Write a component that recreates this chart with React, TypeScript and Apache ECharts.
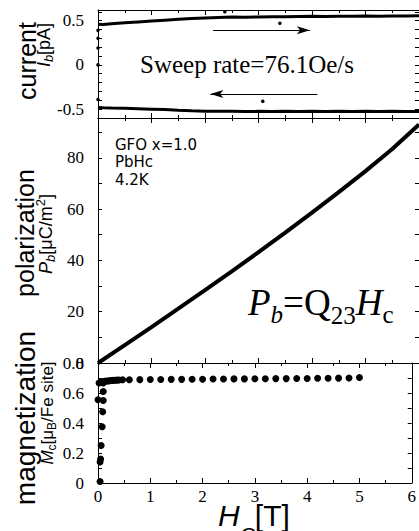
import React, { useEffect, useRef } from "react";
import * as echarts from "echarts";

const SERIF = "Liberation Serif";
const SANS = "Liberation Sans";
const DEJAVU = "DejaVu Sans";

// ---- current panel (I_b vs H) ----
const currentH = [0, 0.1, 0.25, 0.5, 0.75, 1, 1.25, 1.5, 1.75, 2, 2.25, 2.5, 2.75, 3, 3.25, 3.5, 3.75, 4, 4.25, 4.5, 4.75, 5, 5.25, 5.5, 5.75, 6];
const currentUp = [0.46, 0.455, 0.465, 0.475, 0.485, 0.495, 0.505, 0.515, 0.525, 0.53, 0.535, 0.54, 0.538, 0.542, 0.545, 0.543, 0.547, 0.548, 0.546, 0.55, 0.549, 0.552, 0.55, 0.553, 0.552, 0.555];
const currentDown = [-0.48, -0.485, -0.487, -0.49, -0.495, -0.5, -0.505, -0.512, -0.518, -0.523, -0.525, -0.524, -0.527, -0.525, -0.526, -0.524, -0.527, -0.525, -0.526, -0.524, -0.527, -0.525, -0.526, -0.525, -0.527, -0.526];
const strayH = [0, 0, 0, 0, 0, 2.37, 3.4, 3.08];
const strayI = [0.39, 0.3, 0.19, 0.0, -0.39, 0.6, 0.47, -0.41];
const arrowUpper = [[2.15, 0.39], [3.96, 0.39]];
const arrowLower = [[4.1, -0.33], [2.1, -0.33]];
const currentTicks = [-0.6, -0.5, -0.4, -0.3, -0.2, -0.1, 0, 0.1, 0.2, 0.3, 0.4, 0.5, 0.6];
const currentLabels = [-0.5, 0, 0.5];

// ---- polarization panel (P_b vs H) ----
const polH = [0, 0.5, 1, 1.5, 2, 2.5, 3, 3.5, 4, 4.5, 5, 5.5, 6];
const polP = [0, 7, 14, 21.2, 28.4, 35.7, 43.2, 50.8, 58.6, 66.6, 74.8, 83.4, 93];
const polTicks = [0, 10, 20, 30, 40, 50, 60, 70, 80, 90];
const polLabels = [0, 20, 40, 60, 80];

// ---- magnetization panel (M_c vs H) ----
const magH = [0.04, 0.04, 0.05, 0.06, 0.08, 0.09, 0.0, 0.1, 0.1, 0.1, 0.02, 0.06, 0.1, 0.13, 0.16, 0.19, 0.22, 0.25, 0.28, 0.32, 0.36, 0.4, 0.47,
  0.6, 0.8, 1.0, 1.2, 1.4, 1.6, 1.8, 2.0, 2.2, 2.4, 2.6, 2.8, 3.0, 3.2, 3.4, 3.6, 3.8, 4.0, 4.2, 4.4, 4.6, 4.8, 5.0];
const magM = [0.01, 0.14, 0.16, 0.25, 0.375, 0.475, 0.555, 0.55, 0.61, 0.667, 0.667, 0.675, 0.675, 0.678, 0.68, 0.68, 0.682, 0.683, 0.684, 0.685, 0.686, 0.687, 0.688,
  0.688, 0.689, 0.69, 0.69, 0.691, 0.691, 0.692, 0.692, 0.693, 0.693, 0.694, 0.694, 0.695, 0.695, 0.696, 0.696, 0.697, 0.697, 0.698, 0.698, 0.699, 0.7, 0.703];
const magTicks = [0, 0.1, 0.2, 0.3, 0.4, 0.5, 0.6, 0.7, 0.8];
const magLabels = [0, 0.2, 0.4, 0.6, 0.8];

type Piece = { t: string; size: number; family: string; italic?: boolean; dy?: number };

function buildRun(ctx: CanvasRenderingContext2D, pieces: Piece[]) {
  let cx = 0;
  const children: any[] = [];
  pieces.forEach((p) => {
    ctx.font = `${p.italic ? "italic " : ""}${p.size}px "${p.family}"`;
    const w = ctx.measureText(p.t).width;
    children.push({
      type: "text",
      x: cx,
      y: (p.dy || 0) - 0.34 * p.size,
      style: {
        text: p.t,
        fontSize: p.size,
        fontFamily: p.family,
        fontStyle: p.italic ? "italic" : "normal",
        fill: "#000",
        align: "left",
        verticalAlign: "middle",
      },
    });
    cx += w;
  });
  return { children, width: cx };
}

function hRun(ctx: CanvasRenderingContext2D, pieces: Piece[], x: number, baseline: number, center = false) {
  const r = buildRun(ctx, pieces);
  return { type: "group", x: center ? x - r.width / 2 : x, y: baseline, children: r.children };
}

function vRun(ctx: CanvasRenderingContext2D, pieces: Piece[], baselineX: number, centerY: number) {
  const r = buildRun(ctx, pieces);
  return { type: "group", x: baselineX, y: centerY + r.width / 2, rotation: Math.PI / 2, children: r.children };
}

const lineStyle = { color: "#000", width: 1 };

function xAx(grid: number, pos: string, labels: boolean) {
  return {
    type: "value", gridIndex: grid, position: pos, min: 0, max: 6, interval: 1,
    axisLine: { show: true, onZero: false, lineStyle },
    axisTick: { show: true, inside: true, length: 5, lineStyle },
    minorTick: { show: true, splitNumber: 2, length: 3, lineStyle },
    splitLine: { show: false }, minorSplitLine: { show: false },
    axisLabel: {
      show: labels, margin: 5, color: "#000", fontFamily: SERIF, fontSize: 17, fontStyle: "normal", fontWeight: "normal",
    },
  };
}

function yAx(grid: number, pos: string, min: number, max: number, ticks: number[], labels: number[], showLabels: boolean) {
  return {
    type: "value", gridIndex: grid, position: pos, min, max,
    axisLine: { show: true, onZero: false, lineStyle },
    axisTick: { show: true, inside: true, length: 4, customValues: ticks, lineStyle },
    splitLine: { show: false },
    axisLabel: {
      show: showLabels, customValues: labels, margin: 14, color: "#000", fontFamily: SERIF, fontSize: 17, fontStyle: "normal", fontWeight: "normal",
    },
  };
}

export default function App() {
  const ref = useRef<HTMLDivElement>(null);
  useEffect(() => {
    if (!ref.current) return;
    const chart = echarts.init(ref.current, undefined, { renderer: "svg" });
    const ctx = document.createElement("canvas").getContext("2d") as CanvasRenderingContext2D;

    const graphic: any[] = [
      hRun(ctx, [{ t: "Sweep rate=76.1Oe/s", size: 25, family: SERIF }], 247, 73, true),
      hRun(ctx, [{ t: "GFO x=1.0", size: 15, family: DEJAVU }], 115, 150),
      hRun(ctx, [{ t: "PbHc", size: 15, family: DEJAVU }], 115, 167.5),
      hRun(ctx, [{ t: "4.2K", size: 15, family: DEJAVU }], 115, 185),
      hRun(ctx, [
        { t: "P", size: 37, family: SERIF, italic: true },
        { t: "b", size: 25, family: SERIF, italic: true, dy: 8 },
        { t: "=Q", size: 37, family: SERIF },
        { t: "23", size: 25, family: SERIF, dy: 9 },
        { t: "H", size: 37, family: SERIF, italic: true },
        { t: "c", size: 25, family: SERIF, dy: 8 },
      ], 248, 315),
      hRun(ctx, [
        { t: "H", size: 30, family: SANS, italic: true },
        { t: "C", size: 21, family: SANS, italic: true, dy: 16 },
        { t: "[T]", size: 30, family: SANS },
      ], 218, 526),
      vRun(ctx, [{ t: "current", size: 25, family: SANS }], 35, 61),
      vRun(ctx, [
        { t: "I", size: 18, family: SANS, italic: true },
        { t: "b", size: 13, family: SANS, italic: true, dy: 3 },
        { t: "[pA]", size: 18, family: SANS },
      ], 50, 45),
      vRun(ctx, [{ t: "polarization", size: 25, family: SANS }], 33, 233),
      vRun(ctx, [
        { t: "P", size: 18, family: SANS, italic: true },
        { t: "b", size: 13, family: SANS, italic: true, dy: 3 },
        { t: "[μC/m", size: 18, family: SANS },
        { t: "2", size: 13, family: SANS, dy: -7 },
        { t: "]", size: 18, family: SANS },
      ], 52, 234),
      vRun(ctx, [{ t: "magnetization", size: 28, family: SANS }], 35, 418),
      vRun(ctx, [
        { t: "M", size: 17, family: SANS, italic: true },
        { t: "c", size: 12, family: SANS, dy: 3 },
        { t: "[μ", size: 17, family: SANS },
        { t: "B", size: 12, family: SANS, dy: 3 },
        { t: "/Fe site]", size: 17, family: SANS },
      ], 53, 413),
    ];

    const option: any = {
      animation: false,
      backgroundColor: "#fff",
      textStyle: { fontFamily: SERIF },
      grid: [
        { left: 98, top: 10, width: 323, height: 108 },
        { left: 98, top: 118, width: 323, height: 245 },
        { left: 98, top: 363, width: 323, height: 120 },
      ],
      xAxis: [
        xAx(0, "bottom", false), xAx(0, "top", false),
        xAx(1, "bottom", false), xAx(1, "top", false),
        xAx(2, "bottom", true), xAx(2, "top", false),
      ],
      yAxis: [
        yAx(0, "left", -0.6, 0.62, currentTicks, currentLabels, true), yAx(0, "right", -0.6, 0.62, currentTicks, currentLabels, false),
        yAx(1, "left", 0, 95.5, polTicks, polLabels, true), yAx(1, "right", 0, 95.5, polTicks, polLabels, false),
        yAx(2, "left", 0, 0.8, magTicks, magLabels, true), yAx(2, "right", 0, 0.8, magTicks, magLabels, false),
      ],
      graphic,
      series: [
        {
          type: "line", xAxisIndex: 0, yAxisIndex: 0, showSymbol: false,
          data: currentH.map((h, i) => [h, currentUp[i]]),
          lineStyle: { color: "#000", width: 3 },
        },
        {
          type: "line", xAxisIndex: 0, yAxisIndex: 0, showSymbol: false,
          data: currentH.map((h, i) => [h, currentDown[i]]),
          lineStyle: { color: "#000", width: 3 },
        },
        {
          type: "scatter", xAxisIndex: 0, yAxisIndex: 0, symbolSize: 3.5,
          itemStyle: { color: "#000", opacity: 1 },
          data: strayH.map((h, i) => [h, strayI[i]]),
          markLine: {
            silent: true, symbol: ["none", "arrow"], symbolSize: [6, 13],
            lineStyle: { color: "#000", width: 1, type: "solid" },
            label: { show: false },
            data: [
              [{ coord: arrowUpper[0] }, { coord: arrowUpper[1] }],
              [{ coord: arrowLower[0] }, { coord: arrowLower[1] }],
            ],
          },
        },
        {
          type: "line", xAxisIndex: 2, yAxisIndex: 2, showSymbol: false,
          data: polH.map((h, i) => [h, polP[i]]),
          lineStyle: { color: "#000", width: 4 },
        },
        {
          type: "scatter", xAxisIndex: 4, yAxisIndex: 4, symbolSize: 7,
          itemStyle: { color: "#000", opacity: 1 },
          data: magH.map((h, i) => [h, magM[i]]),
        },
      ],
    };
    chart.setOption(option);
    return () => chart.dispose();
  }, []);
  return <div ref={ref} style={{ position: "fixed", left: 0, top: 0, width: 419, height: 531, background: "#fff" }} />;
}
